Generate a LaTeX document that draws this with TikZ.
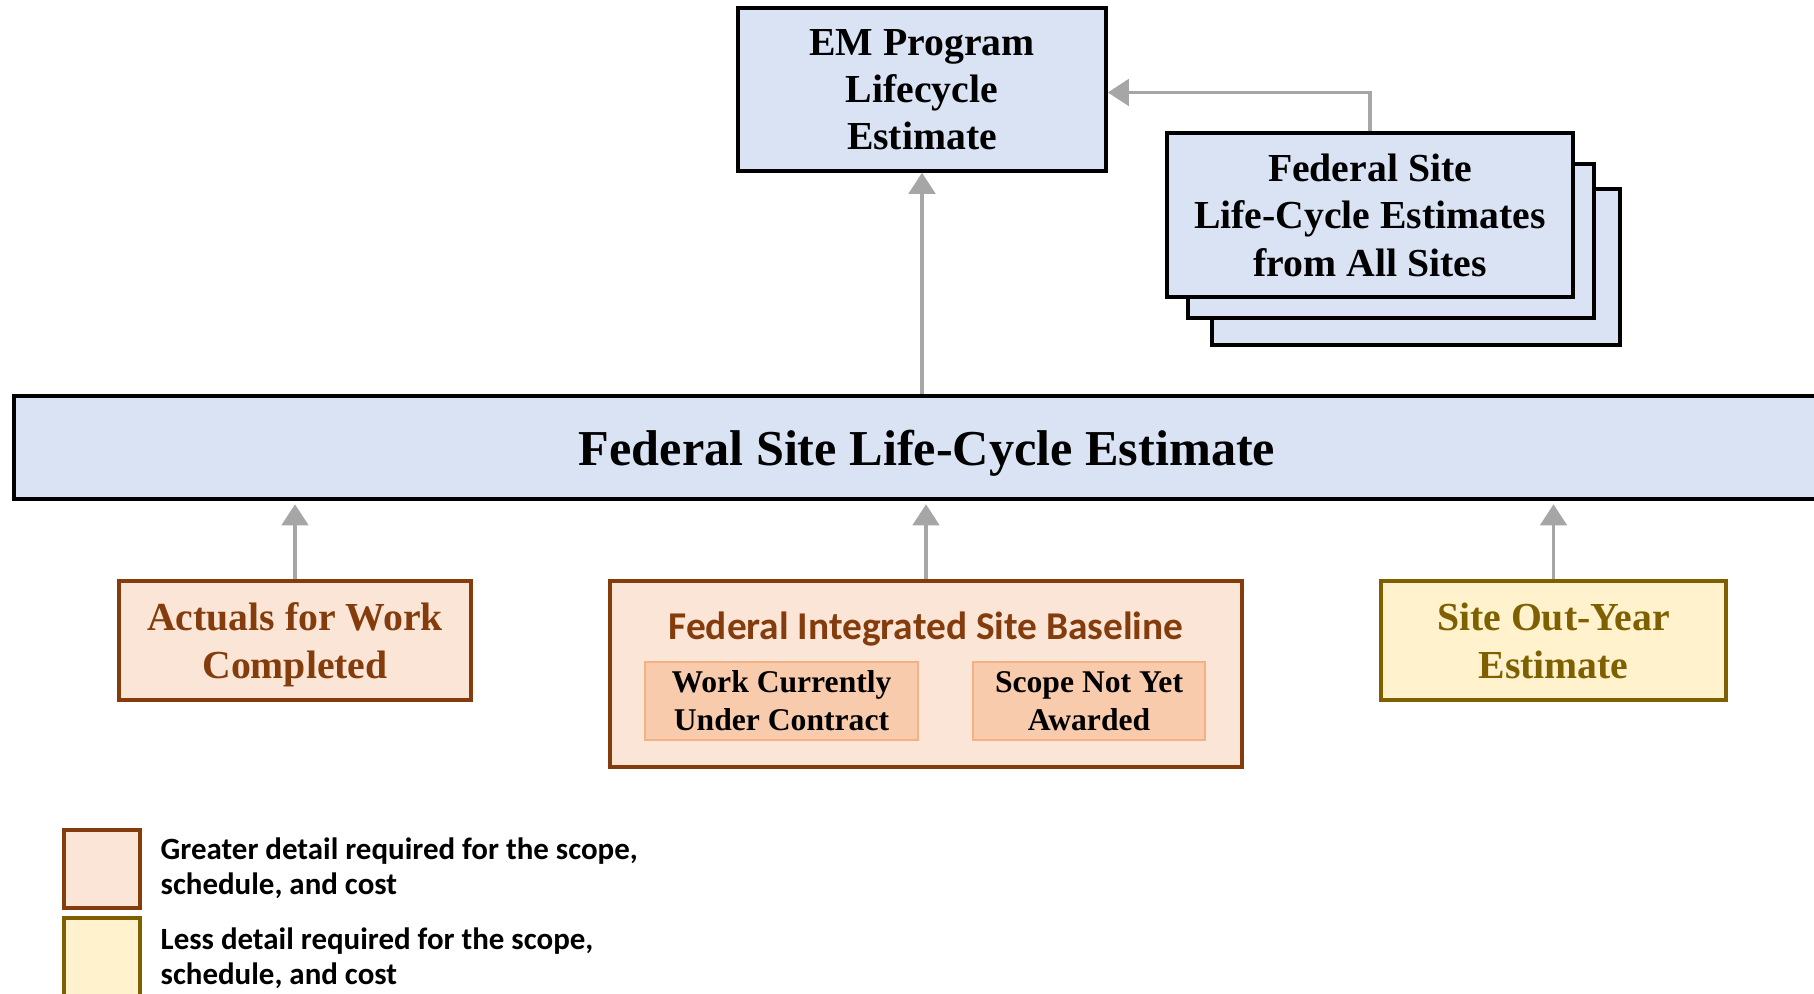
\documentclass[tikz,border=0pt]{standalone}
\usepackage{fontspec}
\setmainfont{Liberation Serif}
\newfontfamily\calibfont{Carlito}
\usetikzlibrary{arrows.meta}
\definecolor{siteblue}{HTML}{DAE3F3}
\definecolor{peach}{HTML}{FBE5D6}
\definecolor{peachdark}{HTML}{F8CBAD}
\definecolor{peachline}{HTML}{F4B183}
\definecolor{rust}{HTML}{843C0C}
\definecolor{cream}{HTML}{FFF2CC}
\definecolor{olive}{HTML}{7F6000}
\definecolor{feedgray}{HTML}{A6A6A6}
\tikzset{
  boxtext/.style={font=\bfseries\fontsize{11.3}{13.5}\selectfont,text depth=0pt},
  sitebox/.style={draw=black,line width=1pt,fill=siteblue,align=center,inner sep=0pt,boxtext},
  detailbox/.style={draw=rust,line width=1pt,fill=peach,text=rust,align=center,inner sep=0pt,boxtext},
  outbox/.style={draw=olive,line width=1pt,fill=cream,text=olive,align=center,inner sep=0pt,boxtext},
  subbox/.style={draw=peachline,line width=0.5pt,fill=peachdark,align=center,inner sep=0pt,
    font=\bfseries\fontsize{9}{10.8}\selectfont},
  feed/.style={draw=feedgray,line width=1.1pt,-{Triangle[width=7.5pt,length=6pt]}},
  keytext/.style={anchor=west,align=left,inner sep=0pt,
    font=\calibfont\bfseries\fontsize{8.8}{10}\selectfont}
}
\begin{document}
\begin{tikzpicture}
\clip (0,0) rectangle (18.14,-9.94);

\node[sitebox,minimum width=3.68cm,minimum height=1.63cm,text depth=-4pt] (em) at (9.22,-0.895)
  {EM Program\\Lifecycle\\Estimate};

% stacked site estimates, back to front
\node[sitebox,minimum width=4.08cm,minimum height=1.56cm] (stackc) at (14.16,-2.67) {};
\node[sitebox,minimum width=4.06cm,minimum height=1.54cm] (stackb) at (13.91,-2.41) {};
\node[sitebox,minimum width=4.06cm,minimum height=1.64cm] (stacka) at (13.70,-2.15)
  {Federal Site\\Life-Cycle Estimates\\from All Sites};

\node[sitebox,minimum width=18.26cm,minimum height=1.03cm,
  font=\bfseries\fontsize{14.3}{17}\selectfont] (fsle) at (9.27,-4.475)
  {Federal Site Life-Cycle Estimate};

\node[detailbox,minimum width=3.52cm,minimum height=1.19cm] (actuals) at (2.95,-6.405)
  {Actuals for Work\\Completed};

\node[detailbox,minimum width=6.32cm,minimum height=1.86cm] (fisb) at (9.26,-6.74) {};
\node[text=rust,font=\calibfont\bfseries\fontsize{11.2}{13}\selectfont,inner sep=0pt]
  (fisbtitle) at (9.26,-6.295) {Federal Integrated Site Baseline};
\node[subbox,minimum width=2.73cm,minimum height=0.78cm] (contract) at (7.815,-7.01)
  {Work Currently\\Under Contract};
\node[subbox,minimum width=2.32cm,minimum height=0.78cm] (notyet) at (10.89,-7.01)
  {Scope Not Yet\\Awarded};

\node[outbox,minimum width=3.45cm,minimum height=1.19cm] (outyear) at (15.535,-6.405)
  {Site Out-Year\\Estimate};

\draw[feed] (fsle.north -| em.south) -- (em.south);
\draw[feed] (stacka.north) |- ([yshift=-0.3mm]em.east);
\foreach \b in {actuals,fisb,outyear}{
\draw[feed,shorten >=1pt] (\b.north) -- (\b.north |- fsle.south);
}

% key
\node[draw=rust,line width=1pt,fill=peach,minimum width=0.76cm,minimum height=0.78cm,inner sep=0pt]
  (keydetail) at (1.02,-8.69) {};
\node[draw=olive,line width=1pt,fill=cream,minimum width=0.76cm,minimum height=0.84cm,inner sep=0pt]
  (keyless) at (1.02,-9.6) {};
\node[keytext] (keydetailtext) at (1.6,-8.68) {Greater detail required for the scope,\\schedule, and cost};
\node[keytext] (keylesstext) at (1.6,-9.58) {Less detail required for the scope,\\schedule, and cost};
\end{tikzpicture}
\end{document}
